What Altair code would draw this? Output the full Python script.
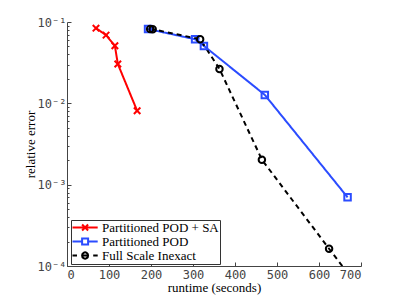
import altair as alt
import pandas as pd

series = ["Partitioned POD + SA", "Partitioned POD", "Full Scale Inexact"]
colors = ["#ff0000", "#2b4cff", "#000000"]

sa_runtime = [69, 93, 114, 121, 167]
sa_error = [0.084, 0.069, 0.051, 0.0305, 0.0081]
pod_runtime = [193, 305, 326, 471, 668]
pod_error = [0.082, 0.0614, 0.0508, 0.0127, 0.0007]
full_runtime = [198, 204, 317, 363, 464, 624, 700]
full_error = [0.082, 0.0814, 0.0614, 0.0265, 0.00203, 0.000163, 0.00005]

x_ticks = [0, 100, 200, 300, 400, 500, 600, 700]
y_ticks = [m * 10.0 ** e for e in (-4, -3, -2) for m in range(1, 10)] + [0.1]

rows = []
for name, xs, ys in zip(series, [sa_runtime, pod_runtime, full_runtime],
                        [sa_error, pod_error, full_error]):
    for i, (xv, yv) in enumerate(zip(xs, ys)):
        rows.append({"series": name, "idx": i, "runtime": xv, "error": yv})
df = pd.DataFrame(rows)

W, H = 294, 244
mono = "DejaVu Sans Mono"
serif = "Liberation Serif"
axis_col = "#444444"

xscale = alt.Scale(domain=[0, 700], nice=False, zero=False)
yscale = alt.Scale(type="log", domain=[1e-4, 1e-1], nice=False)

is_decade = "abs(log(datum.value)/LN10 - round(log(datum.value)/LN10)) < 1e-6"
label_expr = (is_decade + " ? ('10' + ['\u207b\u00b9','\u207b\u00b2','\u207b\u00b3','\u207b\u2074']"
              "[-round(log(datum.value)/LN10)-1]) : ''")

color_scale = alt.Scale(domain=series, range=colors)

# main axes (labels + domain line)
x_axis_main = alt.Axis(orient="bottom", values=x_ticks, ticks=False, grid=False,
                       domainColor=axis_col, labelFont=mono, labelFontSize=12,
                       labelColor=axis_col, labelPadding=3, title="runtime (seconds)",
                       titleFont=serif, titleFontSize=13, titleFontWeight="normal",
                       titleColor="black", titleX=W / 2, titleY=25, titleBaseline="alphabetic")
y_axis_main = alt.Axis(orient="left", values=y_ticks, ticks=False, grid=False,
                       domainColor=axis_col, labelFont=mono, labelFontSize=12,
                       labelColor=axis_col, labelPadding=1, labelExpr=label_expr,
                       labelOverlap=False, title="relative error", titleFont=serif,
                       titleFontSize=13, titleFontWeight="normal", titleColor="black",
                       titleX=-30, titleY=H / 2)
# inward ticks
x_axis_ticks = alt.Axis(orient="top", offset=-H, values=x_ticks, domain=False,
                        labels=False, grid=False, tickSize=4, tickColor=axis_col,
                        title=None)
y_axis_ticks = alt.Axis(orient="right", offset=-W, values=y_ticks, domain=False,
                        labels=False, grid=False, tickColor=axis_col, title=None,
                        tickSize={"condition": {"test": is_decade, "value": 4}, "value": 2})

base = alt.Chart(df)

lines = base.mark_line(strokeWidth=2, clip=True).encode(
    x=alt.X("runtime:Q", scale=xscale, axis=x_axis_main),
    y=alt.Y("error:Q", scale=yscale, axis=y_axis_main),
    color=alt.Color("series:N", scale=color_scale, legend=None),
    strokeDash=alt.StrokeDash("series:N", scale=alt.Scale(domain=series, range=[[1, 0], [1, 0], [5, 4]]), legend=None),
    order="idx:Q",
)

x_marker = "M-1,-1L1,1M-1,1L1,-1"
points = base.mark_point(filled=False, strokeWidth=2, size=42, clip=True, opacity=1).encode(
    x=alt.X("runtime:Q", scale=xscale, axis=x_axis_ticks),
    y=alt.Y("error:Q", scale=yscale, axis=y_axis_ticks),
    color=alt.Color("series:N", scale=color_scale, legend=None),
    shape=alt.Shape("series:N", scale=alt.Scale(domain=series, range=[x_marker, "square", "circle"]), legend=None),
)

# legend glyphs: line segment + marker (unit = 4.5px)
legend_paths = [
    "M-1.333,0H4.267M0.8,-0.667L2.133,0.667M0.8,0.667L2.133,-0.667",
    "M-1.333,0H0.8M2.133,0H4.267M0.8,-0.667H2.133V0.667H0.8Z",
    "M-1.333,0H-0.333M3.267,0H4.267M0.8,0H2.133M2.133,0A0.667,0.667,0,1,1,0.8,0A0.667,0.667,0,1,1,2.133,0",
]
leg = alt.Legend(title=None, orient="none", legendX=4, legendY=198, symbolSize=81,
                 symbolStrokeWidth=2, labelFont=serif, labelFontSize=13, labelColor="black",
                 strokeColor="#333333", fillColor="white", padding=1, rowPadding=-4,
                 labelOffset=17, symbolOpacity=1,
                 labelExpr="datum.label + '\u2002\u2002'")
legend_layer = base.transform_filter("false").mark_point(filled=False, strokeWidth=2, size=81, opacity=1).encode(
    x=alt.X("runtime:Q", scale=xscale, axis=None),
    y=alt.Y("error:Q", scale=yscale, axis=None),
    color=alt.Color("series:N", scale=color_scale, legend=leg),
    shape=alt.Shape("series:N", scale=alt.Scale(domain=series, range=legend_paths), legend=leg),
)

chart = alt.layer(lines, points, legend_layer).resolve_scale(
    color="independent", shape="independent", strokeDash="independent"
).resolve_axis(x="independent", y="independent").properties(
    width=W, height=H,
    autosize=alt.AutoSizeParams(type="none"),
    padding={"left": 59, "top": 14, "right": 30, "bottom": 30},
).configure_view(stroke=None)

chart.save("out.html", embed_options={"renderer": "svg", "actions": False})
